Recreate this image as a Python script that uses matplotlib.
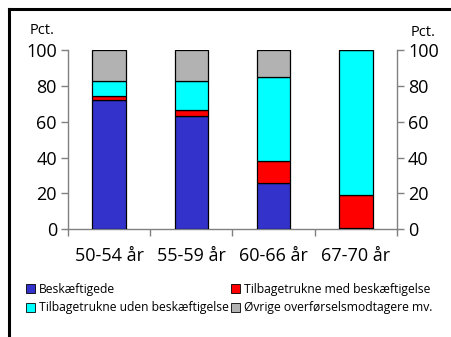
import matplotlib
matplotlib.use("Agg")
import matplotlib.pyplot as plt
from matplotlib.lines import Line2D
from matplotlib.patches import Patch
import numpy as np

plt.rcParams['font.family'] = ['Open Sans', 'DejaVu Sans']

categories = ["50-54 år", "55-59 år", "60-66 år", "67-70 år"]
series_names = ["Beskæftigede", "Tilbagetrukne med beskæftigelse",
                "Tilbagetrukne uden beskæftigelse", "Øvrige overførselsmodtagere mv."]
beskaeftigede = [72.2, 63.2, 25.6, 0.3]
tilb_med = [2.1, 3.2, 12.6, 18.7]
tilb_uden = [8.7, 16.6, 47.0, 81.0]
oevrige = [17.0, 17.0, 14.8, 0.0]
colors = ["#3333CC", "#FF0000", "#00FFFF", "#B2B2B2"]
yticks = [0, 20, 40, 60, 80, 100]

fig = plt.figure(figsize=(4.52, 3.37), dpi=100)
ax = fig.add_axes([68/452, 1-229/337, (397-68)/452, (229-50.3)/337])

x = np.arange(len(categories)) + 0.5
bottom = np.zeros(len(categories))
for vals, col, name in zip([beskaeftigede, tilb_med, tilb_uden, oevrige], colors, series_names):
    ax.bar(x, vals, width=0.41, bottom=bottom, color=col, edgecolor="black",
           linewidth=0.9, label=name, zorder=3)
    bottom += np.array(vals)

ax.set_xlim(0, 4)
ax.set_ylim(0, 100)
ax.set_yticks(yticks)
ax.set_xticks(x)
ax.set_xticklabels(categories, fontsize=13)
ax.set_xticks(np.arange(0, 5), minor=True)
ax.tick_params(axis="x", which="major", length=0, pad=13)
ax.tick_params(axis="x", which="minor", length=5, color="#808080", width=1, direction="out")
ax.tick_params(axis="y", labelsize=13, length=5, color="#808080", width=1, pad=3,
               left=True, right=True, labelleft=True, labelright=True)
for side in ["left", "right", "bottom"]:
    ax.spines[side].set_color("#808080")
    ax.spines[side].set_linewidth(1.0)
ax.spines["top"].set_visible(False)

fig.text(30/452, 1-30/337, "Pct.", fontsize=10.5, ha="left", va="center")
fig.text(411/452, 1-32/337, "Pct.", fontsize=10.5, ha="left", va="center")

handles = [Patch(facecolor=c, edgecolor="black", linewidth=0.6) for c in colors]
order = [0, 2, 1, 3]
fig.legend([handles[i] for i in order], [series_names[i] for i in order],
           ncol=2, loc="upper left", bbox_to_anchor=(26/452, 1-283/337),
           frameon=False, fontsize=8.7, handlelength=0.75, handleheight=0.75,
           handletextpad=0.3, columnspacing=0.2, labelspacing=0.45, borderpad=0,
           borderaxespad=0)

# outer frame
fig.add_artist(Line2D([9/452, 1.0], [1-9/337, 1-9/337], color="black", linewidth=2.2))
fig.add_artist(Line2D([9/452, 9/452], [0.0, 1-9/337], color="black", linewidth=2.2))

fig.savefig("out.png", dpi=100)
